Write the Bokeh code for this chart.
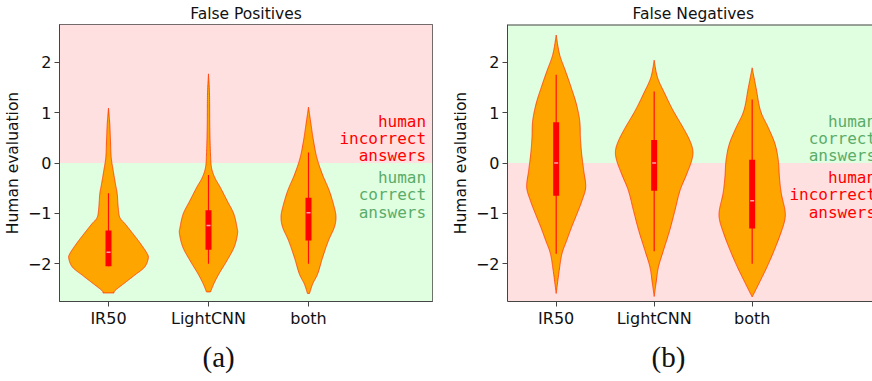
import numpy as np
from bokeh.plotting import figure
from bokeh.layouts import row
from bokeh.models import Label, BoxAnnotation, FixedTicker, Range1d, Title, Span
from bokeh.embed import file_html
from bokeh.resources import INLINE

categories = ["IR50", "LightCNN", "both"]
y_ticks = [-2, -1, 0, 1, 2]

# ---- False Positives: violin profiles (value, half-width in x data units)
fp_ir50_y = [1.09, 0.77, 0.44, 0.11, -0.15, -0.42, -0.61, -0.88, -1.08, -1.21, -1.41, -1.60, -1.80, -1.90, -2.07, -2.23, -2.40, -2.53, -2.58]
fp_ir50_w = [0.0, 0.013, 0.02, 0.027, 0.047, 0.07, 0.087, 0.097, 0.113, 0.167, 0.247, 0.32, 0.387, 0.397, 0.36, 0.26, 0.15, 0.067, 0.055]
fp_light_y = [1.77, 1.37, 0.70, 0.18, -0.09, -0.29, -0.48, -0.75, -1.01, -1.28, -1.41, -1.67, -1.93, -2.20, -2.40, -2.56]
fp_light_w = [0.0, 0.01, 0.013, 0.02, 0.03, 0.063, 0.117, 0.187, 0.253, 0.285, 0.29, 0.257, 0.187, 0.105, 0.053, 0.02]
fp_both_y = [1.11, 0.77, 0.44, 0.11, -0.22, -0.55, -0.88, -1.08, -1.28, -1.54, -1.87, -2.20, -2.40, -2.59]
fp_both_w = [0.0, 0.025, 0.05, 0.083, 0.138, 0.208, 0.258, 0.275, 0.258, 0.20, 0.142, 0.092, 0.042, 0.01]

fp_q1 = [-2.05, -1.72, -1.54]
fp_q3 = [-1.34, -0.94, -0.69]
fp_med = [-1.77, -1.24, -0.99]
fp_wlo = [-2.05, -2.0, -2.0]
fp_whi = [-0.60, -0.24, 0.21]

# ---- False Negatives
fn_ir50_y = [2.54, 2.16, 1.83, 1.50, 1.17, 0.84, 0.51, 0.18, -0.15, -0.48, -0.75, -1.01, -1.28, -1.54, -1.80, -2.13, -2.59]
fn_ir50_w = [0.0, 0.034, 0.094, 0.153, 0.206, 0.24, 0.247, 0.26, 0.281, 0.301, 0.263, 0.212, 0.156, 0.107, 0.059, 0.031, 0.0]
fn_light_y = [2.04, 1.70, 1.37, 1.04, 0.70, 0.44, 0.24, 0.05, -0.22, -0.55, -0.94, -1.34, -1.74, -2.07, -2.40, -2.65]
fn_light_w = [0.0, 0.034, 0.11, 0.194, 0.296, 0.365, 0.395, 0.383, 0.332, 0.263, 0.212, 0.158, 0.094, 0.043, 0.018, 0.0]
fn_both_y = [1.89, 1.50, 1.04, 0.70, 0.38, 0.05, -0.28, -0.61, -0.94, -1.14, -1.41, -1.74, -2.07, -2.33, -2.53, -2.66]
fn_both_w = [0.0, 0.039, 0.085, 0.165, 0.233, 0.267, 0.278, 0.298, 0.335, 0.332, 0.289, 0.224, 0.15, 0.085, 0.034, 0.0]

fn_q1 = [-0.65, -0.55, -1.30]
fn_q3 = [0.81, 0.455, 0.065]
fn_med = [0.0, 0.0, -0.75]
fn_wlo = [-1.80, -1.75, -2.0]
fn_whi = [1.75, 1.42, 1.26]

note_incorrect = ["human", "incorrect", "answers"]
note_correct = ["human", "correct", "answers"]

PINK = "#ffe0e0"
GREEN_BG = "#e0ffe0"
RED = "#ff0000"
GREEN_TXT = "#5aac6a"
FRAME = "#444444"


def catmull(ys, ws, m=16):
    P = np.column_stack([np.asarray(ys, float), np.asarray(ws, float)])
    P = np.vstack([P[0], P, P[-1]])
    out = []
    t = np.linspace(0, 1, m, endpoint=False)[:, None]
    for i in range(1, len(P) - 2):
        p0, p1, p2, p3 = P[i - 1], P[i], P[i + 1], P[i + 2]
        pt = 0.5 * ((2 * p1) + (-p0 + p2) * t + (2 * p0 - 5 * p1 + 4 * p2 - p3) * t ** 2
                    + (-p0 + 3 * p1 - 3 * p2 + p3) * t ** 3)
        out.append(pt)
    out.append(P[-2][None, :])
    arr = np.vstack(out)
    arr[:, 1] = np.clip(arr[:, 1], 0, None)
    return arr[:, 0], arr[:, 1]


def make_panel(title, profiles, q1, q3, med, wlo, whi, top_color, bot_color,
               top_note, bot_note, top_col, bot_col, xr, note_x, title_align, title_off,
               cap, cap_off, width, mbl, mbr, outline):
    p = figure(width=width, height=381, output_backend="svg", toolbar_location=None,
               x_range=Range1d(*xr), y_range=Range1d(-2.75, 2.75),
               min_border_left=mbl, min_border_right=mbr, min_border_top=24,
               min_border_bottom=80)
    p.grid.visible = False
    p.background_fill_color = "white"
    p.border_fill_color = "white"
    p.outline_line_color = FRAME if outline else None
    p.outline_line_width = 1

    p.add_layout(BoxAnnotation(bottom=0, fill_color=top_color, fill_alpha=1.0, line_color=None, level="underlay"))
    p.add_layout(BoxAnnotation(top=0, fill_color=bot_color, fill_alpha=1.0, line_color=None, level="underlay"))

    xs_all, ys_all = [], []
    for i, (vy, vw) in enumerate(profiles):
        c = i + 1
        yy, ww = catmull(vy, vw)
        xs_all.append(np.concatenate([c + ww, (c - ww)[::-1]]))
        ys_all.append(np.concatenate([yy, yy[::-1]]))
    p.patches(xs_all, ys_all, fill_color="#ffa500", fill_alpha=1.0,
              line_color="#ff3000", line_alpha=0.75, line_width=1)

    cx = [1, 2, 3]
    p.segment(x0=cx, x1=cx, y0=wlo, y1=whi, line_color=RED, line_width=1.2, line_alpha=0.9)
    p.segment(x0=cx, x1=cx, y0=q1, y1=q3, line_color=RED, line_width=6, line_cap="butt")
    p.segment(x0=[c - 0.02 for c in cx], x1=[c + 0.02 for c in cx], y0=med, y1=med,
              line_color="white", line_width=1.5, line_alpha=0.65)

    # axes styling
    p.xaxis.ticker = FixedTicker(ticks=[1, 2, 3])
    p.xaxis.major_label_overrides = {i + 1: lab for i, lab in enumerate(categories)}
    p.yaxis.ticker = FixedTicker(ticks=y_ticks)
    p.yaxis.major_label_overrides = {t: (str(t).replace("-", "\u2212")) for t in y_ticks}
    for ax in (p.xaxis[0], p.yaxis[0]):
        ax.axis_line_color = FRAME
        ax.major_tick_line_color = FRAME
        ax.minor_tick_line_color = None
        ax.major_tick_out = 5
        ax.major_tick_in = 0
        ax.major_label_text_font = "DejaVu Sans"
        ax.major_label_text_font_size = "16px"
        ax.major_label_text_color = "#111111"
    p.xaxis.major_label_standoff = 2
    p.yaxis.major_label_standoff = 3
    p.yaxis.axis_label = "Human evaluation"
    p.yaxis.axis_label_text_font = "DejaVu Sans"
    p.yaxis.axis_label_text_font_size = "15.5px"
    p.yaxis.axis_label_text_font_style = "normal"
    p.yaxis.axis_label_text_color = "#111111"
    p.yaxis.axis_label_standoff = 3

    if not outline:
        p.add_layout(Span(location=2.75, dimension="width", line_color=FRAME, line_width=2))

    # title
    p.title = Title(text=title, align=title_align, offset=title_off, standoff=4,
                    text_font="DejaVu Sans", text_font_size="15.5px",
                    text_font_style="normal", text_color="#111111")
    # notes
    baselines_top = [0.818, 0.481, 0.145]
    baselines_bot = [-0.291, -0.628, -0.984]
    for txt, yb in zip(top_note, baselines_top):
        p.add_layout(Label(x=note_x, y=yb, text=txt, text_align="right", text_baseline="alphabetic",
                           text_font="DejaVu Sans Mono", text_font_size="16px", text_color=top_col))
    for txt, yb in zip(bot_note, baselines_bot):
        p.add_layout(Label(x=note_x, y=yb, text=txt, text_align="right", text_baseline="alphabetic",
                           text_font="DejaVu Sans Mono", text_font_size="16px", text_color=bot_col))
    # caption
    p.add_layout(Title(text=cap, align="left", offset=cap_off, standoff=17,
                       text_font="Liberation Serif", text_font_size="29px",
                       text_font_style="normal", text_color="#111111"), "below")
    return p


p1 = make_panel("False Positives",
                [(fp_ir50_y, fp_ir50_w), (fp_light_y, fp_light_w), (fp_both_y, fp_both_w)],
                fp_q1, fp_q3, fp_med, fp_wlo, fp_whi, PINK, GREEN_BG,
                note_incorrect, note_correct, RED, GREEN_TXT,
                (0.51, 4.24), 4.176, "center", 0, "(a)", 143, 436, 59, 4, True)
p2 = make_panel("False Negatives",
                [(fn_ir50_y, fn_ir50_w), (fn_light_y, fn_light_w), (fn_both_y, fn_both_w)],
                fn_q1, fn_q3, fn_med, fn_wlo, fn_whi, GREEN_BG, PINK,
                note_correct, note_incorrect, GREEN_TXT, RED,
                (0.503, 4.228), 4.265, "left", 125, "(b)", 144, 436, 71, 0, False)

layout = row(p1, p2, spacing=0)
open("out.html", "w").write(file_html(layout, INLINE))
